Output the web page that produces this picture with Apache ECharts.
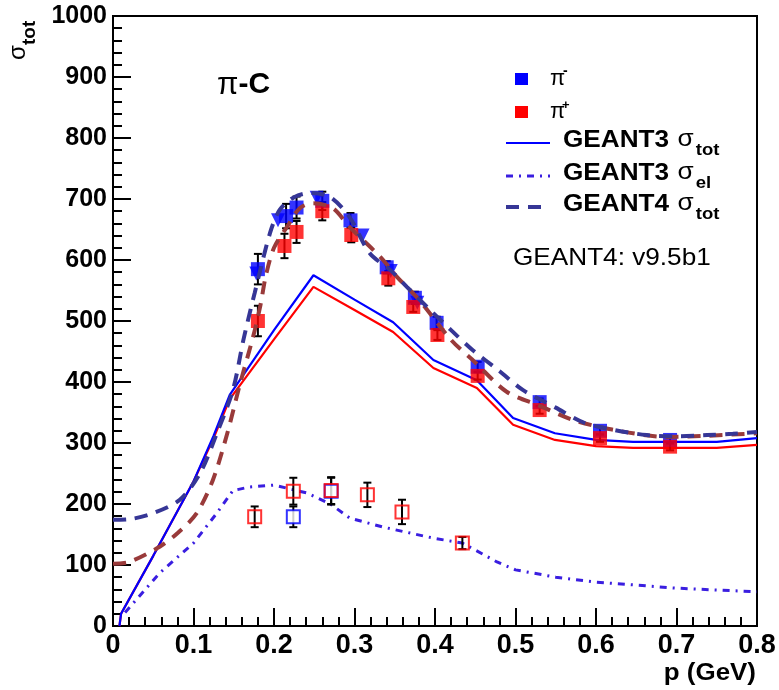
<!DOCTYPE html>
<html><head><meta charset="utf-8">
<script src="https://cdn.jsdelivr.net/npm/echarts@6/dist/echarts.min.js"></script>
<style>html,body{margin:0;padding:0;background:#fff}#c{width:779px;height:690px}</style>
</head><body><div id="c"></div>
<script>
// ---- data ----
const piMinusX   = [0.180, 0.215, 0.228, 0.260, 0.295, 0.340, 0.375, 0.402, 0.453, 0.530, 0.605, 0.692];
const piMinusY   = [585, 672, 686, 697, 665, 588, 538, 497, 425, 367, 320, 305];
const piMinusErr = [25, 20, 18, 15, 12, 10, 10, 10, 8, 6, 6, 6];

const piMinusTriX = [0.178, 0.205, 0.253, 0.310, 0.345, 0.378];
const piMinusTriY = [578, 665, 702, 640, 582, 530];

const piPlusX   = [0.180, 0.213, 0.228, 0.260, 0.296, 0.342, 0.373, 0.403, 0.453, 0.530, 0.605, 0.692];
const piPlusY   = [500, 623, 646, 680, 641, 570, 523, 477, 410, 354, 308, 294];
const piPlusErr = [25, 20, 18, 15, 12, 12, 8, 8, 6, 6, 6, 6];

const elPlusX   = [0.176, 0.224, 0.271, 0.316, 0.359, 0.434];
const elPlusY   = [179, 221, 222, 215, 187, 136];
const elPlusErr = [17, 22, 22, 20, 20, 10];
const elMinusX   = [0.224, 0.271];
const elMinusY   = [179, 221];
const elMinusErr = [17, 22];

const g3MinusX = [0.008, 0.010, 0.050, 0.100, 0.125, 0.145, 0.200, 0.249, 0.300, 0.348, 0.398, 0.452, 0.497, 0.549, 0.600, 0.646, 0.700, 0.750, 0.800];
const g3MinusY = [0, 20, 115, 237, 312, 379, 485, 575, 535, 498, 436, 403, 341, 316, 305, 302, 302, 302, 308];
const g3PlusX  = [0.008, 0.010, 0.050, 0.100, 0.125, 0.145, 0.200, 0.249, 0.300, 0.348, 0.398, 0.452, 0.497, 0.549, 0.600, 0.646, 0.700, 0.750, 0.800];
const g3PlusY  = [0, 20, 115, 237, 308, 372, 470, 556, 518, 482, 423, 390, 330, 305, 295, 292, 292, 292, 297];

const g3ElX = [0.015, 0.058, 0.100, 0.129, 0.149, 0.170, 0.200, 0.241, 0.270, 0.294, 0.336, 0.398, 0.434, 0.477, 0.500, 0.550, 0.600, 0.700, 0.800];
const g3ElY = [22, 87, 136, 185, 222, 228, 231, 218, 200, 177, 162, 144, 136, 105, 92, 80, 72, 62, 56];

const g4MinusX = [0.000, 0.020, 0.050, 0.083, 0.108, 0.129, 0.149, 0.162, 0.176, 0.195, 0.207, 0.225, 0.245, 0.270, 0.294, 0.319, 0.345, 0.365, 0.394, 0.420, 0.447, 0.480, 0.509, 0.550, 0.584, 0.620, 0.663, 0.700, 0.738, 0.770, 0.800];
const g4MinusY = [174, 175, 185, 207, 250, 316, 387, 469, 546, 644, 682, 703, 710, 703, 670, 611, 583, 556, 518, 485, 452, 418, 387, 358, 334, 322, 313, 311, 313, 315, 318];
const g4PlusX  = [0.000, 0.020, 0.058, 0.080, 0.104, 0.124, 0.142, 0.158, 0.174, 0.183, 0.190, 0.200, 0.216, 0.232, 0.249, 0.273, 0.294, 0.332, 0.353, 0.380, 0.420, 0.450, 0.489, 0.530, 0.571, 0.620, 0.688, 0.740, 0.800];
const g4PlusY  = [102, 105, 130, 152, 185, 239, 316, 398, 474, 525, 575, 620, 654, 685, 693, 685, 654, 605, 572, 535, 469, 432, 384, 361, 338, 322, 310, 312, 316];

const xMin = 0, xMax = 0.8, xStep = 0.1;
const yMin = 0, yMax = 1000, yStep = 100;

// ---- helpers ----
const zip = (xs, ys) => xs.map((x, i) => [x, ys[i]]);
const errData = (xs, ys, es) => xs.map((x, i) => [x, ys[i] - es[i], ys[i] + es[i]]);
const FONT = '"Liberation Sans", Arial, Helvetica, sans-serif';
const cv = document.createElement('canvas').getContext('2d');
function tw(t, f) { cv.font = f; return cv.measureText(t).width; }

function errRender(params, api) {
  const x = api.value(0), lo = api.value(1), hi = api.value(2);
  const p1 = api.coord([x, hi]), p2 = api.coord([x, lo]);
  const cap = 4;
  const st = { stroke: '#000', lineWidth: 2 };
  return { type: 'group', children: [
    { type: 'line', shape: { x1: p1[0], y1: p1[1], x2: p2[0], y2: p2[1] }, style: st },
    { type: 'line', shape: { x1: p1[0] - cap, y1: p1[1], x2: p1[0] + cap, y2: p1[1] }, style: st },
    { type: 'line', shape: { x1: p2[0] - cap, y1: p2[1], x2: p2[0] + cap, y2: p2[1] }, style: st }
  ]};
}

const C_BLUE = '#0000ff', C_RED = '#ff0000', C_G4B = '#363696', C_G4R = '#993a3a', C_EL = '#3a1ee0';

function sigRow(x, y, main, sub) {
  const fMain = 'bold 24px ' + FONT, fSig = '24px ' + FONT, fSub = 'bold 17px ' + FONT;
  const w1 = tw(main, fMain), w2 = tw('σ', fSig);
  return { type: 'group', x: x, y: y, scaleX: 1.09, children: [
    { type: 'text', x: 0, y: 0, style: { text: main, font: fMain, fill: '#000', verticalAlign: 'middle' } },
    { type: 'text', x: w1 + 1, y: -1, style: { text: 'σ', font: fSig, fill: '#000', verticalAlign: 'middle' } },
    { type: 'text', x: w1 + w2 + 3, y: 10, style: { text: sub, font: fSub, fill: '#000', verticalAlign: 'middle' } }
  ]};
}

const graphics = [
  { type: 'group', x: 18, y: 60, rotation: Math.PI / 2, children: [
    { type: 'text', x: 0, y: 0, style: { text: 'σ', font: '24px ' + FONT, fill: '#000', verticalAlign: 'middle' } },
    { type: 'text', x: 15, y: 12, style: { text: 'tot', font: 'bold 19px ' + FONT, fill: '#000', verticalAlign: 'middle' } }
  ]},
  { type: 'group', x: 756, y: 673, scaleX: 1.08, children: [
    { type: 'text', x: 0, y: 0, style: { text: 'p (GeV)', font: 'bold 24px ' + FONT, fill: '#000', align: 'right', verticalAlign: 'middle' } }
  ]},
  { type: 'group', x: 217, y: 85, children: [
    { type: 'text', x: 0, y: 0, style: { text: 'π', font: '31px ' + FONT, fill: '#000', verticalAlign: 'middle' } },
    { type: 'text', x: tw('π', '31px ' + FONT), y: 0, style: { text: '-C', font: 'bold 30px ' + FONT, fill: '#000', verticalAlign: 'middle' } }
  ]},
  { type: 'rect', shape: { x: 515, y: 73, width: 13, height: 12 }, style: { fill: C_BLUE } },
  { type: 'text', x: 550, y: 79, style: { text: 'π', font: '22px ' + FONT, fill: '#000', verticalAlign: 'middle' } },
  { type: 'text', x: 563, y: 71, style: { text: '-', font: 'bold 14px ' + FONT, fill: '#000', verticalAlign: 'middle' } },
  { type: 'rect', shape: { x: 515, y: 106, width: 13, height: 12 }, style: { fill: C_RED } },
  { type: 'text', x: 550, y: 112, style: { text: 'π', font: '22px ' + FONT, fill: '#000', verticalAlign: 'middle' } },
  { type: 'text', x: 562, y: 105, style: { text: '+', font: 'bold 13px ' + FONT, fill: '#000', verticalAlign: 'middle' } },
  { type: 'line', shape: { x1: 506, y1: 143, x2: 550, y2: 143 }, style: { stroke: C_BLUE, lineWidth: 2 } },
  { type: 'line', shape: { x1: 506, y1: 176, x2: 550, y2: 176 }, style: { stroke: C_EL, lineWidth: 3, lineDash: [7, 6, 2, 6] } },
  { type: 'line', shape: { x1: 506, y1: 207, x2: 550, y2: 207 }, style: { stroke: C_G4B, lineWidth: 4, lineDash: [13, 9] } },
  sigRow(563, 140, 'GEANT3 ', 'tot'),
  sigRow(563, 173, 'GEANT3 ', 'el'),
  sigRow(563, 204, 'GEANT4 ', 'tot'),
  { type: 'group', x: 513, y: 258, scaleX: 1.09, children: [
    { type: 'text', x: 0, y: 0, style: { text: 'GEANT4: v9.5b1', font: '24px ' + FONT, fill: '#000', verticalAlign: 'middle' } }
  ]}
];

const chart = echarts.init(document.getElementById('c'), null, { renderer: 'canvas' });
chart.setOption({
  animation: false,
  backgroundColor: '#fff',
  grid: { left: 113, top: 16, right: 22, bottom: 64, show: true, borderColor: '#000', borderWidth: 2, backgroundColor: 'transparent' },
  xAxis: {
    type: 'value', min: xMin, max: xMax, interval: xStep,
    axisLine: { show: true, onZero: false, lineStyle: { color: '#000', width: 2 } },
    axisTick: { show: true, inside: true, length: 18, lineStyle: { color: '#000', width: 2 } },
    minorTick: { show: true, splitNumber: 5, length: 9, lineStyle: { color: '#000', width: 2 } },
    splitLine: { show: false },
    axisLabel: { color: '#000', fontFamily: FONT, fontWeight: 'bold', fontSize: 27, margin: 6,
      formatter: v => (Math.abs(v) < 1e-9 ? '0' : v.toFixed(1)) }
  },
  yAxis: {
    type: 'value', min: yMin, max: yMax, interval: yStep,
    axisLine: { show: true, onZero: false, lineStyle: { color: '#000', width: 2 } },
    axisTick: { show: true, inside: true, length: 18, lineStyle: { color: '#000', width: 2 } },
    minorTick: { show: true, splitNumber: 5, length: 9, lineStyle: { color: '#000', width: 2 } },
    splitLine: { show: false },
    axisLabel: { color: '#000', fontFamily: FONT, fontWeight: 'bold', fontSize: 25, margin: 6,
      formatter: v => String(Math.round(v)) }
  },
  series: [
    { name: 'GEANT3 el', type: 'line', data: zip(g3ElX, g3ElY), showSymbol: false, z: 2,
      lineStyle: { color: C_EL, width: 3, type: [7, 6, 2, 6] } },
    { name: 'GEANT3 tot pi+', type: 'line', data: zip(g3PlusX, g3PlusY), showSymbol: false, z: 2,
      lineStyle: { color: C_RED, width: 2.2 } },
    { name: 'GEANT3 tot pi-', type: 'line', data: zip(g3MinusX, g3MinusY), showSymbol: false, z: 2,
      lineStyle: { color: C_BLUE, width: 2.2 } },
    { name: 'err el', type: 'custom', renderItem: errRender, data: errData(elPlusX, elPlusY, elPlusErr).concat(errData(elMinusX, elMinusY, elMinusErr)),
      encode: { x: 0, y: [1, 2] }, z: 3 },
    { name: 'el pi-', type: 'scatter', data: zip(elMinusX, elMinusY), symbol: 'rect', symbolSize: 13, z: 4,
      itemStyle: { color: '#fff', borderColor: C_BLUE, borderWidth: 2 } },
    { name: 'el pi+', type: 'scatter', data: zip(elPlusX, elPlusY), symbol: 'rect', symbolSize: 13, z: 4,
      itemStyle: { color: 'rgba(0,0,0,0)', borderColor: C_RED, borderWidth: 2 } },
    { name: 'err tot', type: 'custom', renderItem: errRender,
      data: errData(piMinusX, piMinusY, piMinusErr).concat(errData(piPlusX, piPlusY, piPlusErr)),
      encode: { x: 0, y: [1, 2] }, z: 3 },
    { name: 'pi- tri', type: 'scatter', data: zip(piMinusTriX, piMinusTriY), symbol: 'triangle', symbolRotate: 180, symbolSize: 14, z: 4,
      itemStyle: { color: C_BLUE } },
    { name: 'pi-', type: 'scatter', data: zip(piMinusX, piMinusY), symbol: 'rect', symbolSize: 14, z: 4,
      itemStyle: { color: C_BLUE } },
    { name: 'pi+', type: 'scatter', data: zip(piPlusX, piPlusY), symbol: 'rect', symbolSize: 14, z: 5,
      itemStyle: { color: C_RED } },
    { name: 'GEANT4 tot pi+', type: 'line', data: zip(g4PlusX, g4PlusY), showSymbol: false, smooth: 0.3, z: 6,
      lineStyle: { color: C_G4R, width: 4, type: [13, 9] } },
    { name: 'GEANT4 tot pi-', type: 'line', data: zip(g4MinusX, g4MinusY), showSymbol: false, smooth: 0.3, z: 6,
      lineStyle: { color: C_G4B, width: 4, type: [13, 9] } }
  ],
  graphic: graphics
});
</script>
</body></html>
